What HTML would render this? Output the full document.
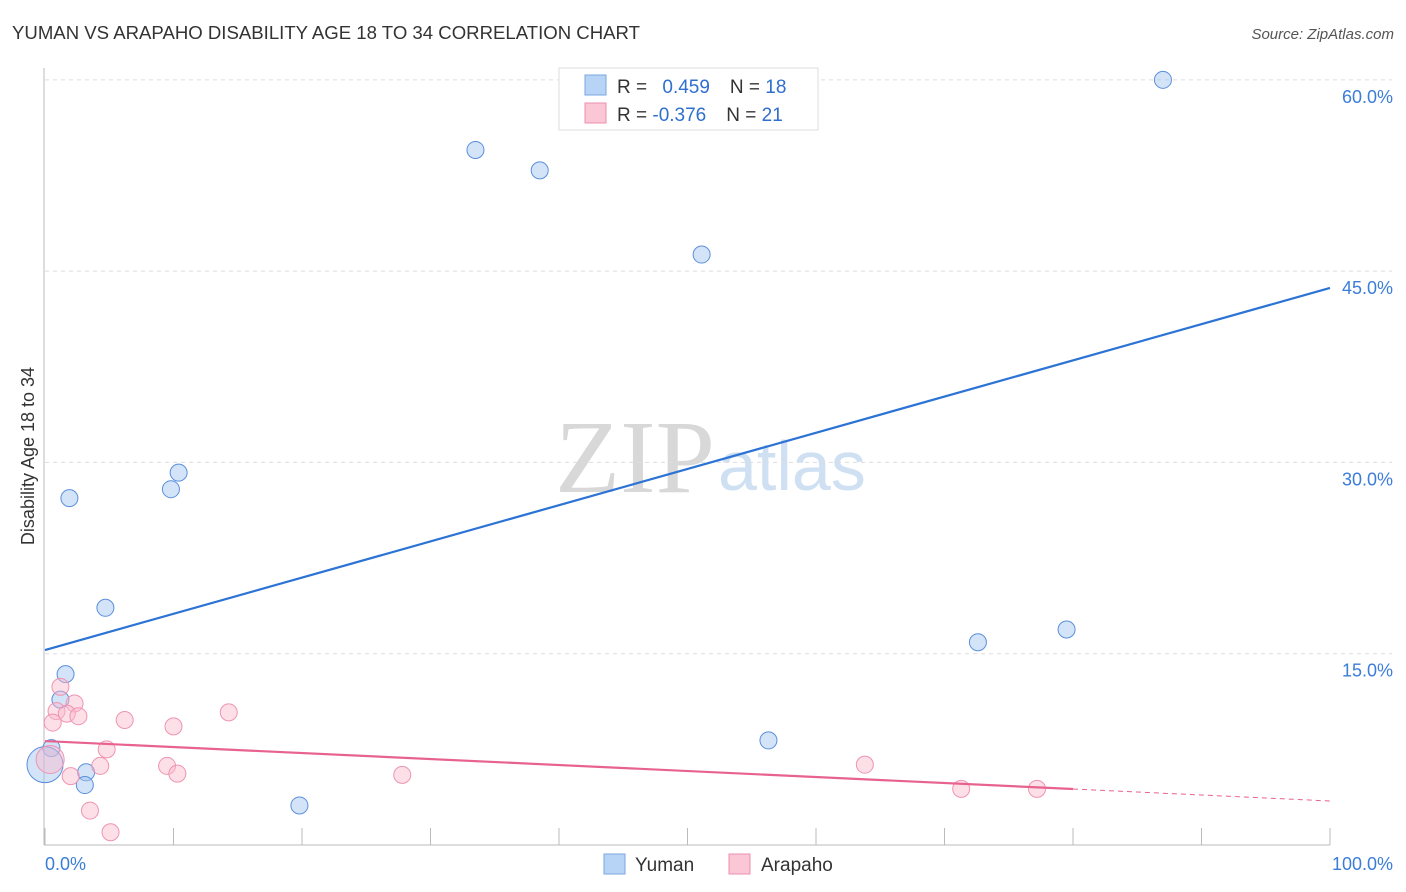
<!DOCTYPE html>
<html><head><meta charset="utf-8"><style>
body{margin:0;background:#fff;font-family:"Liberation Sans",sans-serif;}
svg{display:block}
</style></head><body>
<svg id="chart" width="1406" height="892">
<text x="12" y="39" font-size="18.5" fill="#333" textLength="628" lengthAdjust="spacingAndGlyphs">YUMAN VS ARAPAHO DISABILITY AGE 18 TO 34 CORRELATION CHART</text>
<text x="1394" y="39" font-size="15" fill="#555" font-style="italic" text-anchor="end">Source: ZipAtlas.com</text>
<text x="555" y="492" font-size="104" font-family="Liberation Serif,serif" fill="#d8d8d8" textLength="160" lengthAdjust="spacingAndGlyphs">ZIP</text>
<text x="718" y="490" font-size="70" fill="#cfe0f3">atlas</text>
<text transform="translate(34,456) rotate(-90)" font-size="18" fill="#333" text-anchor="middle">Disability Age 18 to 34</text>
<g id="grid"></g><g id="axes"></g><g id="marks"></g>
<g>
<rect x="559" y="68" width="259" height="62" fill="#fff" stroke="#ddd"/>
<rect x="585" y="75" width="21" height="20" fill="#b7d3f5" stroke="#7aa7e0"/>
<rect x="585" y="103" width="21" height="20" fill="#fbc7d6" stroke="#ee8fae"/>
<text x="617" y="93" font-size="19" fill="#333">R = <tspan fill="#2f6fce" dx="10">0.459</tspan><tspan fill="#333" dx="20">N = </tspan><tspan fill="#2f6fce">18</tspan></text>
<text x="617" y="121" font-size="19" fill="#333">R = <tspan fill="#2f6fce">-0.376</tspan><tspan fill="#333" dx="20">N = </tspan><tspan fill="#2f6fce">21</tspan></text>
</g>
<g>
<rect x="604" y="854" width="21" height="20" fill="#b7d3f5" stroke="#7aa7e0"/>
<text x="635" y="871" font-size="19" fill="#333">Yuman</text>
<rect x="729" y="854" width="21" height="20" fill="#fbc7d6" stroke="#ee8fae"/>
<text x="761" y="871" font-size="19" fill="#333">Arapaho</text>
</g>
</svg>
<script>
const yTicks=[15,30,45,60];
const yTickLabels=["15.0%","30.0%","45.0%","60.0%"];
const xTicks=[0,10,20,30,40,50,60,70,80,90,100];
const yumanX=[1.6,1.2,0.5,0,3.2,3.1,4.7,1.9,9.8,10.4,33.5,38.5,51.1,56.3,19.8,72.6,79.5,87.0];
const yumanY=[13.4,11.4,7.6,6.3,5.7,4.7,18.6,27.2,27.9,29.2,54.5,52.9,46.3,8.2,3.1,15.9,16.9,60.0];
const yumanBig=[0,0,0,1,0,0,0,0,0,0,0,0,0,0,0,0,0,0];
const arapX=[1.2,2.3,0.9,1.7,2.6,0.6,6.2,10.0,14.3,4.8,0.4,4.3,2.0,9.5,10.3,3.5,5.1,27.8,63.8,71.3,77.2];
const arapY=[12.4,11.1,10.5,10.3,10.1,9.6,9.8,9.3,10.4,7.5,6.7,6.2,5.4,6.2,5.6,2.7,1.0,5.5,6.3,4.4,4.4];
const arapBig=[0,0,0,0,0,0,0,0,0,0,1,0,0,0,0,0,0,0,0,0,0];
const yumanTrend=[15.29,43.68];
const arapTrend=[8.15,3.45];
const arapSolidEnd=80;
const NS="http://www.w3.org/2000/svg";
const X=v=>45+v*12.85, Y=v=>845-v*12.753;
function mk(tag,attrs,parent){const e=document.createElementNS(NS,tag);for(const k in attrs)e.setAttribute(k,attrs[k]);document.getElementById(parent).appendChild(e);return e;}
yTicks.forEach((t,i)=>{
 const l=mk('line',{x1:45,x2:1392,y1:Y(t),y2:Y(t),stroke:'#ddd','stroke-dasharray':'4,4'},'grid');
 
 
 const tx=mk('text',{x:1393,y:Y(t)+23,'font-size':18,fill:'#3b7dd8','text-anchor':'end'},'grid');
 tx.textContent=yTickLabels[i];
 
 
});
const ax=mk('line',{x1:44,x2:44,y1:68,y2:845,stroke:'#bbb'},'axes');


const bx=mk('line',{x1:44,x2:1330,y1:845,y2:845,stroke:'#bbb'},'axes');


xTicks.forEach(t=>{const l=mk('line',{x1:X(t),x2:X(t),y1:828,y2:845,stroke:'#bbb'},'axes');
 
 });
const xl0=mk('text',{x:45,y:870,'font-size':18,fill:'#3b7dd8'},'axes');xl0.textContent='0.0%';


const xl1=mk('text',{x:1393,y:870,'font-size':18,fill:'#3b7dd8','text-anchor':'end'},'axes');xl1.textContent='100.0%';


yumanX.forEach((v,i)=>{const c=mk('circle',{cx:X(v),cy:Y(yumanY[i]),r:yumanBig[i]?18:8.5,fill:'rgba(160,195,240,0.45)',stroke:'#5b8fdc','stroke-width':1},'marks');
 
 });
arapX.forEach((v,i)=>{const c=mk('circle',{cx:X(v),cy:Y(arapY[i]),r:arapBig[i]?14:8.5,fill:'rgba(250,185,205,0.45)',stroke:'#ef94b2','stroke-width':1},'marks');
 
 });
const yl=mk('line',{x1:X(0),y1:Y(yumanTrend[0]),x2:X(100),y2:Y(yumanTrend[1]),stroke:'#2c73d6','stroke-width':2.2},'marks');


const ay=v=>arapTrend[0]+(arapTrend[1]-arapTrend[0])*v/100;
const al=mk('line',{x1:X(0),y1:Y(ay(0)),x2:X(arapSolidEnd),y2:Y(ay(arapSolidEnd)),stroke:'#e8628f','stroke-width':2.2},'marks');


const ad=mk('line',{x1:X(arapSolidEnd),y1:Y(ay(arapSolidEnd)),x2:X(100),y2:Y(ay(100)),stroke:'#e8628f','stroke-width':1,'stroke-dasharray':'5,4'},'marks');


</script>
</body></html>
